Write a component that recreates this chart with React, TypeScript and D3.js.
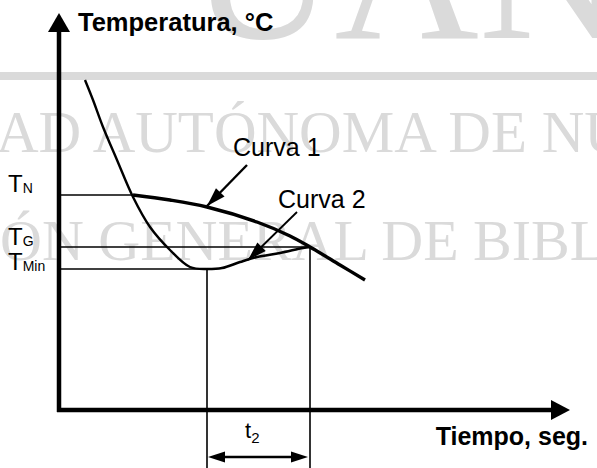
import * as d3 from "d3";

// time (arbitrary units) vs temperature (arbitrary units)
const coolingTime = [5.2, 6.8, 8.8, 11.6, 14.8, 18.2, 22.2, 26.2, 29.6];
const coolingTemp = [82.5, 77.5, 70.75, 62.5, 53.25, 45.75, 40, 35.75, 35.25];

const curve1Time = [14.8, 22.2, 29.6, 39.6, 46.2, 50.2, 56.2, 61.2];
const curve1Temp = [53.75, 52.5, 50.75, 47, 43.5, 40.75, 36.25, 32.5];

const curve2Time = [29.6, 32.6, 36.2, 39.6, 44.2, 48.8, 50.2];
const curve2Temp = [35.25, 35.5, 37, 38.25, 39.25, 40.5, 40.75];

const levelSubs = ["N", "G", "Min"];
const levelTemps = [53.75, 40.75, 35.25];
const levelEndTime = [14.8, 50.2, 29.6];
const levelLabelTemp = [54.5, 41.25, 35];

const tMin = 29.6;
const tCross = 50.2;

const W = 597;
const H = 468;

const x = d3.scaleLinear().domain([0, 100]).range([59, 559]);
const y = d3.scaleLinear().domain([0, 100]).range([410, 10]);

const line = d3
  .line<[number, number]>()
  .x((d) => x(d[0]))
  .y((d) => y(d[1]))
  .curve(d3.curveCatmullRom.alpha(0.5));

const zip = (a: number[], b: number[]) => a.map((v, i) => [v, b[i]] as [number, number]);

// filled arrow head with tip at (tx,ty) pointing away from (fx,fy)
function head(fx: number, fy: number, tx: number, ty: number, len: number, half: number) {
  const a = Math.atan2(ty - fy, tx - fx);
  const bx = tx - len * Math.cos(a);
  const by = ty - len * Math.sin(a);
  const px = -Math.sin(a) * half;
  const py = Math.cos(a) * half;
  return `M${tx},${ty}L${bx + px},${by + py}L${bx - px},${by - py}Z`;
}

const sans = "'Liberation Sans', Arial, sans-serif";
const serif = "'Liberation Serif', 'Times New Roman', serif";
const wm = "#dadada";

export default function App() {
  const x0 = x(0);
  const y0 = y(0);

  // annotation arrows (data units)
  const a1 = [x(37.6), y(61.25), x(29.6), y(51)];
  const a2 = [x(47.6), y(49.5), x(37.8), y(37.5)];
  const dimY = y(-11.75);

  return (
    <svg
      width={W}
      height={H}
      style={{ position: "absolute", left: 0, top: 0, display: "block", background: "#fff" }}
    >
      {/* watermark */}
      <g fill={wm} fontFamily={serif}>
        <text x={190} y={38} fontSize={200}>UANL</text>
        <rect x={0} y={72} width={W} height={8} />
        <text x={-322} y={152} fontSize={59}>UNIVERSIDAD AUTÓNOMA DE NUEVO LEÓN</text>
        <text x={-232} y={260} fontSize={58}>DIRECCIÓN GENERAL DE BIBLIOTECAS</text>
      </g>

      {/* axes */}
      <line x1={x0} y1={y0 + 2} x2={x0} y2={y(94.5)} stroke="#000" strokeWidth={4.5} />
      <path d={head(x0, y0, x0, y(99.25), 19, 11)} fill="#000" />
      <line x1={x0 - 2} y1={y0} x2={x(98.4)} y2={y0} stroke="#000" strokeWidth={4.5} />
      <path d={head(x0, y0, x(102.2), y0, 19, 10)} fill="#000" />

      {/* reference lines */}
      <g stroke="#000" strokeWidth={1.6}>
        {levelTemps.map((t, i) => (
          <line key={i} x1={x0} y1={y(t)} x2={x(levelEndTime[i])} y2={y(t)} />
        ))}
        <line x1={x(tMin)} y1={y(levelTemps[2])} x2={x(tMin)} y2={H} />
        <line x1={x(tCross)} y1={y(levelTemps[1])} x2={x(tCross)} y2={H} />
      </g>

      {/* curves */}
      <path d={line(zip(coolingTime, coolingTemp)) || ""} fill="none" stroke="#000" strokeWidth={2.4} />
      <path d={line(zip(curve1Time, curve1Temp)) || ""} fill="none" stroke="#000" strokeWidth={3.4} />
      <path d={line(zip(curve2Time, curve2Temp)) || ""} fill="none" stroke="#000" strokeWidth={2.6} />

      {/* callouts */}
      <line x1={a1[0]} y1={a1[1]} x2={a1[2]} y2={a1[3]} stroke="#000" strokeWidth={2.4} />
      <path d={head(a1[0], a1[1], a1[2], a1[3], 19, 6)} fill="#000" />
      <line x1={a2[0]} y1={a2[1]} x2={a2[2]} y2={a2[3]} stroke="#000" strokeWidth={1.8} />
      <path d={head(a2[0], a2[1], a2[2], a2[3], 19, 6)} fill="#000" />

      {/* t2 dimension */}
      <line x1={x(tMin) + 8} y1={dimY} x2={x(tCross) - 8} y2={dimY} stroke="#000" strokeWidth={2.6} />
      <path d={head(x(tCross), dimY, x(tMin) + 1, dimY, 17, 5.5)} fill="#000" />
      <path d={head(x(tMin), dimY, x(tCross) - 2, dimY, 17, 5.5)} fill="#000" />

      {/* text */}
      <g fontFamily={sans} fill="#000">
        <text x={78} y={31} fontSize={25.5} fontWeight="bold">Temperatura, °C</text>
        <text x={588} y={445} fontSize={25} fontWeight="bold" textAnchor="end">Tiempo, seg.</text>
        <text x={x(34.8)} y={y(63.5)} fontSize={25}>Curva 1</text>
        <text x={x(43.8)} y={y(50.5)} fontSize={25}>Curva 2</text>
        <text x={x(37.2)} y={y(-7)} fontSize={22}>
          t<tspan fontSize={15} dy={5}>2</tspan>
        </text>
        {levelSubs.map((s, i) => (
          <text key={s} x={x(-10.2)} y={y(levelLabelTemp[i])} fontSize={24}>
            T<tspan fontSize={14} dy={1}>{s}</tspan>
          </text>
        ))}
      </g>
    </svg>
  );
}
